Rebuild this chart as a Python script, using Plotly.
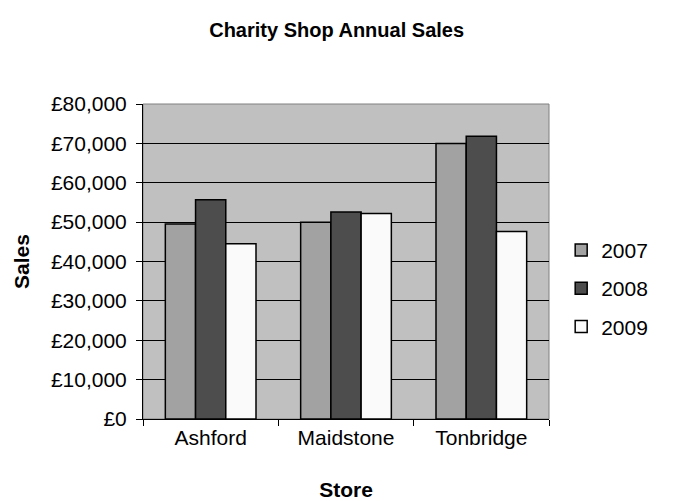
import plotly.graph_objects as go

stores = ["Ashford", "Maidstone", "Tonbridge"]
years = ["2007", "2008", "2009"]
sales_2007 = [49500, 50000, 70000]
sales_2008 = [55700, 52600, 71800]
sales_2009 = [44500, 52200, 47600]
colors = ["#A2A2A2", "#4D4D4D", "#FAFAFA"]
y_ticks = [0, 10000, 20000, 30000, 40000, 50000, 60000, 70000, 80000]
y_tick_labels = ["\u00a3{:,}".format(v) for v in y_ticks]

fig = go.Figure()
for i, (yr, vals) in enumerate(zip(years, [sales_2007, sales_2008, sales_2009])):
    fig.add_trace(go.Bar(
        x=stores, y=vals, name=yr, legendgroup=yr,
        marker=dict(color=colors[i], line=dict(color="black", width=1.5)),
    ))

font_family = "Liberation Sans, Arial, sans-serif"
fig.update_layout(
    width=687, height=501,
    margin=dict(l=143, r=138, t=104, b=82),
    paper_bgcolor="white",
    plot_bgcolor="#C0C0C0",
    barmode="group",
    bargap=0.33,
    bargroupgap=0,
    font=dict(family=font_family, size=21, color="black"),
    title=dict(text="<b>Charity Shop Annual Sales</b>", x=0.49, xanchor="center",
               y=0.94, yanchor="middle", font=dict(size=20)),
    legend=dict(x=1.03, xanchor="left", y=0.415, yanchor="middle",
                font=dict(size=21), tracegroupgap=8, itemwidth=30),
    xaxis=dict(
        title=dict(text="<b>Store</b>", font=dict(size=21), standoff=34),
        automargin=False,
        showline=True, linecolor="black", linewidth=1,
        ticks="outside", tickson="boundaries", ticklen=6, tickcolor="black",
        showgrid=False,
    ),
    yaxis=dict(
        title=dict(text="<b>Sales</b>", font=dict(size=21), standoff=15),
        automargin=False,
        range=[0, 80000], tickmode="array", tickvals=y_ticks, ticktext=y_tick_labels,
        ticklabelstandoff=5,
        showline=True, linecolor="black", linewidth=1,
        ticks="outside", ticklen=6, tickcolor="black",
        showgrid=True, gridcolor="black", gridwidth=1, zeroline=False,
    ),
)
fig.add_shape(type="rect", xref="paper", yref="paper", x0=0, x1=1, y0=0, y1=1,
              line=dict(color="#808080", width=1), layer="below")
fig.write_html("out.html")
